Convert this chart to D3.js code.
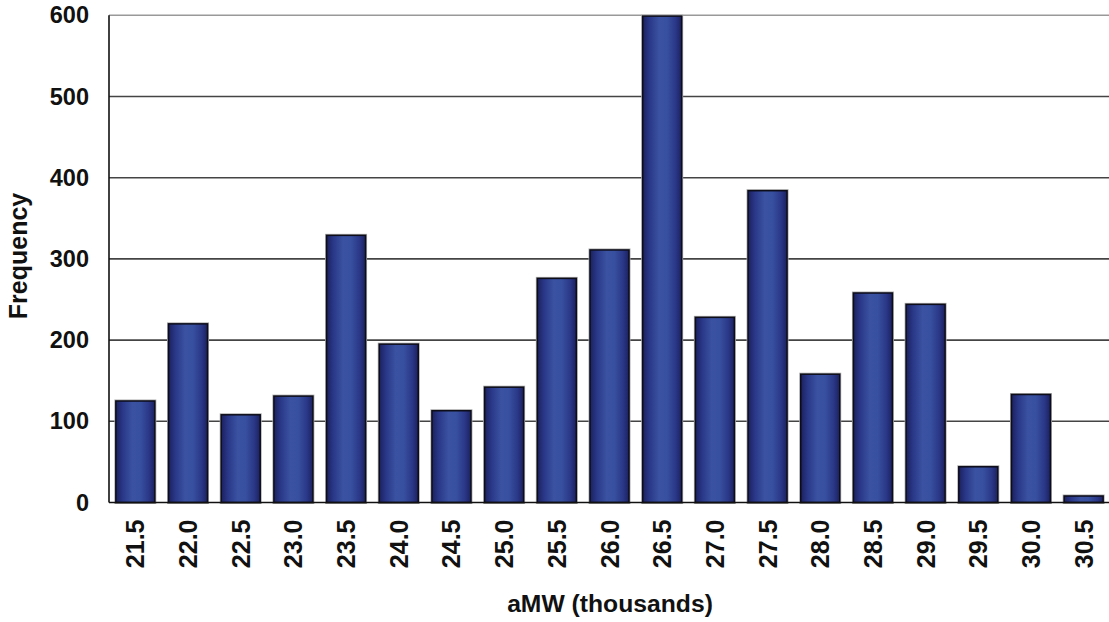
<!DOCTYPE html>
<html><head><meta charset="utf-8">
<script src="https://cdn.jsdelivr.net/npm/d3@7"></script>
<style>body{margin:0;background:#fff}svg{display:block}text{font-family:"Liberation Sans",Arial,sans-serif;font-weight:bold;fill:#111}</style>
</head><body><svg id="c" width="1109" height="622"></svg>
<script>
const categories = ["21.5","22.0","22.5","23.0","23.5","24.0","24.5","25.0","25.5","26.0","26.5","27.0","27.5","28.0","28.5","29.0","29.5","30.0","30.5"];
const frequency = [125,220,108,131,329,195,113,142,276,311,599,228,384,158,258,244,44,133,8];
const yTicks = [0,100,200,300,400,500,600];
const xTitle = "aMW (thousands)";
const yTitle = "Frequency";

const svg = d3.select("#c");
const m = {left:109, right:1110, top:15.3, bottom:502.5};
const x = d3.scaleBand().domain(categories).range([m.left, m.right]).paddingInner(0.26).paddingOuter(0.13);
const y = d3.scaleLinear().domain([0,600]).range([m.bottom, m.top]);

const defs = svg.append("defs");
const g = defs.append("linearGradient").attr("id","bg").attr("x1","0").attr("x2","1").attr("y1","0").attr("y2","0");
[[0,"#1b215e"],[0.18,"#2a3889"],[0.42,"#3a52a1"],[0.62,"#3850a0"],[0.85,"#2a3787"],[1,"#1b215e"]].forEach(s=>g.append("stop").attr("offset",s[0]).attr("stop-color",s[1]));

// gridlines
svg.append("g").selectAll("line").data(yTicks.filter(d=>d>0)).join("line")
  .attr("x1",m.left).attr("x2",1109).attr("y1",d=>y(d)).attr("y2",d=>y(d))
  .attr("stroke",d=>d===600?"#999":"#444").attr("stroke-width",1.6);

// bars
const bars = svg.append("g");
bars.selectAll("rect.halo").data(frequency).join("rect").attr("class","halo")
  .attr("x",(d,i)=>x(categories[i])).attr("width",x.bandwidth())
  .attr("y",d=>y(d)).attr("height",d=>y(0)-y(d))
  .attr("fill","none").attr("stroke","#aaa").attr("stroke-width",3);
bars.selectAll("rect.bar").data(frequency).join("rect").attr("class","bar")
  .attr("x",(d,i)=>x(categories[i])).attr("width",x.bandwidth())
  .attr("y",d=>y(d)).attr("height",d=>y(0)-y(d))
  .attr("fill","url(#bg)").attr("stroke","#0d0d1a").attr("stroke-width",1.5);

// axes lines
svg.append("line").attr("x1",m.left).attr("x2",m.left).attr("y1",m.top).attr("y2",m.bottom).attr("stroke","#111").attr("stroke-width",1.6);
svg.append("line").attr("x1",m.left).attr("x2",1109).attr("y1",m.bottom).attr("y2",m.bottom).attr("stroke","#111").attr("stroke-width",1.6);

// y tick labels
const yAxis = d3.axisLeft(y).tickValues(yTicks).tickSize(0).tickPadding(20);
const ya = svg.append("g").attr("transform",`translate(${m.left},0)`).call(yAxis);
ya.select(".domain").remove();
ya.selectAll("text").attr("font-size",23.5).attr("font-family","'Liberation Sans',Arial,sans-serif").attr("font-weight","bold").attr("fill","#111");

// x tick labels
const xAxis = d3.axisBottom(x).tickSize(0);
const xa = svg.append("g").attr("transform",`translate(0,${m.bottom})`).call(xAxis);
xa.select(".domain").remove();
xa.selectAll("text").attr("font-size",25).attr("font-family","'Liberation Sans',Arial,sans-serif").attr("font-weight","bold").attr("fill","#111")
  .attr("transform","rotate(-90)").attr("text-anchor","end").attr("x",-17).attr("y",0).attr("dy","0.36em");

// titles
svg.append("text").attr("x",610).attr("y",612).attr("text-anchor","middle").attr("font-size",24.7).text(xTitle);
svg.append("text").attr("transform","translate(27,256) rotate(-90)").attr("text-anchor","middle").attr("font-size",25).text(yTitle);
</script></body></html>
